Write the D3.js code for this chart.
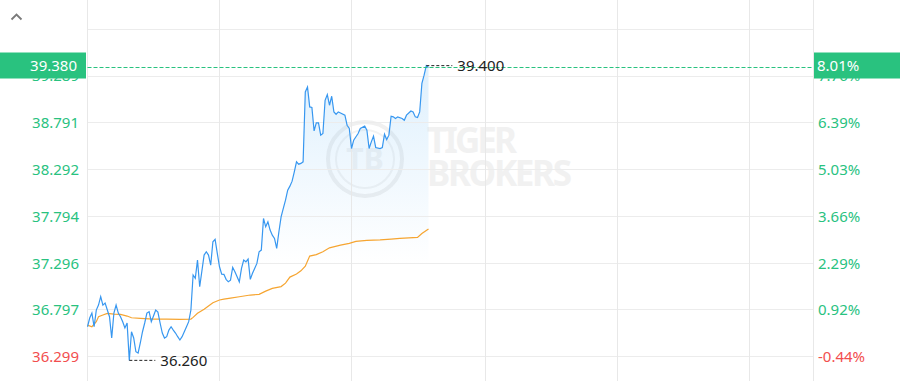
<!DOCTYPE html>
<html>
<head>
<meta charset="utf-8">
<script src="https://cdn.jsdelivr.net/npm/d3@7"></script>
<style>
  html, body { margin: 0; padding: 0; background: #fff; }
  svg { display: block; font-family: "Noto Sans", "Open Sans", sans-serif; }
</style>
</head>
<body>
<svg id="chart" width="900" height="381"></svg>
<script>
// ---------- DATA ----------
// minute index within the trading session (09:30 = 0)
const priceMinutes = [0,1,2,3,4,5,6,7,8,10,11,12,13,14,15,16,17,18,19,20,21,22,23,24,25,26,27,28,29,30,31,32,33,34,35,36,37,38,39,40,41,42,43,44,45,46,47,48,49,50,51,53,54,55,56,57,58,59,60,61,62,63,64,65,66,67,68,69,70,71,72,73,74,75,77,78,79,80,81,82,83,84,85,86,87,88,89,90,91,92,93,94,95,96,97,98,99,100,101,102,103,104,105,106,107,108,109,110,111,112,113,114,115,117,118,119,120,121,123,124,126,127,128,129,130,131,133,134,135,136,137,138,139,140,141,143,144,145,147,148,149,150,151,152,153,154,155];
const prices = [36.618,36.711,36.764,36.618,36.796,36.849,36.938,36.849,36.871,36.725,36.498,36.764,36.849,36.764,36.725,36.672,36.605,36.658,36.260,36.565,36.498,36.352,36.338,36.445,36.565,36.658,36.764,36.778,36.672,36.732,36.796,36.775,36.658,36.551,36.498,36.512,36.583,36.618,36.583,36.551,36.512,36.477,36.512,36.565,36.618,36.672,36.796,37.169,37.134,37.328,37.044,37.382,37.417,37.382,37.275,37.523,37.549,37.400,37.257,37.179,37.176,37.123,37.097,37.115,37.251,37.204,37.151,37.097,37.240,37.328,37.310,37.339,37.123,37.187,37.293,37.417,37.435,37.772,37.683,37.736,37.648,37.594,37.559,37.453,37.630,37.789,37.879,37.967,38.073,38.116,38.169,38.268,38.375,38.350,38.358,38.375,39.120,39.173,38.960,38.954,38.705,38.790,38.790,38.659,38.677,39.031,39.092,38.978,39.074,38.907,38.882,38.907,38.896,38.872,38.765,38.730,38.517,38.606,38.677,38.730,38.755,38.712,38.517,38.588,38.648,38.528,38.517,38.528,38.669,38.613,38.659,38.861,38.854,38.837,38.854,38.837,38.818,38.872,38.917,38.907,38.854,38.847,38.907,39.212,39.298,39.400,39.380];

const avgMinutes = [0,2,4,5,7,9,12,15,18,20,24,30,36,42,47,48,50,53,55,57,60,62,65,69,74,78,81,84,88,90,92,95,97,99,101,104,107,110,115,119,122,127,133,138,142,150,152,155];
const avgPrices = [36.636,36.618,36.672,36.725,36.743,36.761,36.753,36.750,36.732,36.714,36.708,36.700,36.700,36.697,36.700,36.718,36.761,36.804,36.839,36.874,36.903,36.913,36.924,36.938,36.956,36.963,36.998,37.027,37.046,37.083,37.147,37.179,37.214,37.264,37.371,37.387,37.417,37.459,37.488,37.506,37.527,37.538,37.544,37.552,37.559,37.570,37.612,37.660];

const sessionLength = 330;                       // minutes in session
const gridMinutes = [0, 60, 120, 181, 241, 301, 330];

const priceTicks = [36.299, 36.797, 37.296, 37.794, 38.292, 38.791, 39.289];
const priceTickLabels = ["36.299","36.797","37.296","37.794","38.292","38.791","39.289"];
const pctTickLabels = ["-0.44%","0.92%","2.29%","3.66%","5.03%","6.39%","7.76%"];
const gridTopPrice = 39.787;

const lastPrice = 39.380, lastPriceLabel = "39.380", lastPctLabel = "8.01%";
const highPrice = 39.400, highMinute = 154, highLabel = "39.400";
const lowPrice = 36.260, lowMinute = 19, lowLabel = "36.260";

// ---------- DRAW ----------
const GREEN = "#29c27f", RED = "#f24e4e";
const svg = d3.select("#chart");
const x = d3.scaleLinear().domain([0, sessionLength]).range([87.5, 813.5]);
const y = d3.scaleLinear().domain([priceTicks[0], gridTopPrice]).range([356.7, 29.3]);
const crisp = v => Math.round(v - 0.5) + 0.5;

const defs = svg.append("defs");
const grad = defs.append("linearGradient").attr("id", "fillGrad")
  .attr("gradientUnits", "userSpaceOnUse").attr("x1", 0).attr("x2", 0)
  .attr("y1", y(highPrice)).attr("y2", 265);
grad.append("stop").attr("offset", 0).attr("stop-color", "#5db4f5").attr("stop-opacity", 0.2);
grad.append("stop").attr("offset", 1).attr("stop-color", "#5db4f5").attr("stop-opacity", 0);

// watermark
const wm = svg.append("g").attr("fill", "none");
wm.append("circle").attr("cx", 365).attr("cy", 159).attr("r", 37).attr("stroke", "#f0f0f0").attr("stroke-width", 4);
wm.append("circle").attr("cx", 365).attr("cy", 159).attr("r", 29).attr("stroke", "#f3f3f3").attr("stroke-width", 2);
wm.append("text").attr("x", 365).attr("y", 170).attr("text-anchor", "middle").attr("fill", "#f3f3f3")
  .attr("font-size", 30).attr("font-weight", 700).text("TB");
wm.append("text").attr("x", 427).attr("y", 153).attr("fill", "#f1f1f1")
  .attr("font-size", 35).attr("font-weight", 700).attr("textLength", 90).text("TIGER");
wm.append("text").attr("x", 427).attr("y", 186).attr("fill", "#f1f1f1")
  .attr("font-size", 35).attr("font-weight", 700).attr("textLength", 145).text("BROKERS");

// area fill
const pts = priceMinutes.map((m, i) => [m, prices[i]]);
svg.append("path").datum(pts)
  .attr("d", d3.area().x(d => x(d[0])).y0(381).y1(d => y(d[1])))
  .attr("fill", "url(#fillGrad)");

// grid
const grid = svg.append("g").attr("shape-rendering", "crispEdges");
grid.selectAll(".hg").data(priceTicks.concat([gridTopPrice])).join("line")
  .attr("x1", x(0)).attr("x2", x(sessionLength))
  .attr("y1", d => crisp(y(d))).attr("y2", d => crisp(y(d)))
  .attr("stroke", "#ececec");
grid.selectAll(".vg").data(gridMinutes).join("line")
  .attr("x1", d => crisp(x(d))).attr("x2", d => crisp(x(d)))
  .attr("y1", 0).attr("y2", 381)
  .attr("stroke", "#e8e8e8");

// lines
svg.append("path").datum(avgMinutes.map((m, i) => [m, avgPrices[i]]))
  .attr("d", d3.line().x(d => x(d[0])).y(d => y(d[1])))
  .attr("fill", "none").attr("stroke", "#f6a531").attr("stroke-width", 1.2);
svg.append("path").datum(pts)
  .attr("d", d3.line().x(d => x(d[0])).y(d => y(d[1])))
  .attr("fill", "none").attr("stroke", "#3797f0").attr("stroke-width", 1.2);

// axis labels
const leftAx = svg.append("g").attr("font-size", 15);
leftAx.selectAll("text").data(priceTicks).join("text")
  .attr("x", 79).attr("y", d => y(d)).attr("dy", "0.36em").attr("text-anchor", "end")
  .attr("fill", (d, i) => i === 0 ? RED : GREEN)
  .text((d, i) => priceTickLabels[i]);
const rightAx = svg.append("g").attr("font-size", 15);
rightAx.selectAll("text").data(priceTicks).join("text")
  .attr("x", 818).attr("y", d => y(d)).attr("dy", "0.36em")
  .attr("fill", (d, i) => i === 0 ? RED : GREEN)
  .text((d, i) => pctTickLabels[i]);

// last price dashed line + tags
const ly = y(lastPrice);
svg.append("line").attr("x1", x(0)).attr("x2", x(sessionLength)).attr("y1", ly).attr("y2", ly)
  .attr("stroke", GREEN).attr("stroke-dasharray", "4,2").attr("stroke-width", 1);
svg.append("rect").attr("x", 0).attr("y", ly - 15).attr("width", 86).attr("height", 26).attr("fill", GREEN);
svg.append("text").attr("x", 77).attr("y", ly - 2).attr("dy", "0.36em").attr("text-anchor", "end")
  .attr("fill", "#fff").attr("font-size", 15).text(lastPriceLabel);
svg.append("rect").attr("x", 814).attr("y", ly - 15).attr("width", 86).attr("height", 26).attr("fill", GREEN);
svg.append("text").attr("x", 817).attr("y", ly - 2).attr("dy", "0.36em")
  .attr("fill", "#fff").attr("font-size", 15).text(lastPctLabel);

// high / low annotations
function marker(minute, price, label) {
  const px = x(minute), py = y(price);
  svg.append("line").attr("x1", px).attr("x2", px + 26).attr("y1", py).attr("y2", py)
    .attr("stroke", "#222").attr("stroke-dasharray", "3,2").attr("stroke-width", 1);
  svg.append("text").attr("x", px + 31).attr("y", py).attr("dy", "0.36em")
    .attr("fill", "#222").attr("font-size", 15).text(label);
}
marker(highMinute, highPrice, highLabel);
marker(lowMinute, lowPrice, lowLabel);

// collapse caret
svg.append("path").attr("d", "M11.5,19.5 L16.5,14.5 L21.5,19.5")
  .attr("fill", "none").attr("stroke", "#7a7a7a").attr("stroke-width", 1.8);
</script>
</body>
</html>
